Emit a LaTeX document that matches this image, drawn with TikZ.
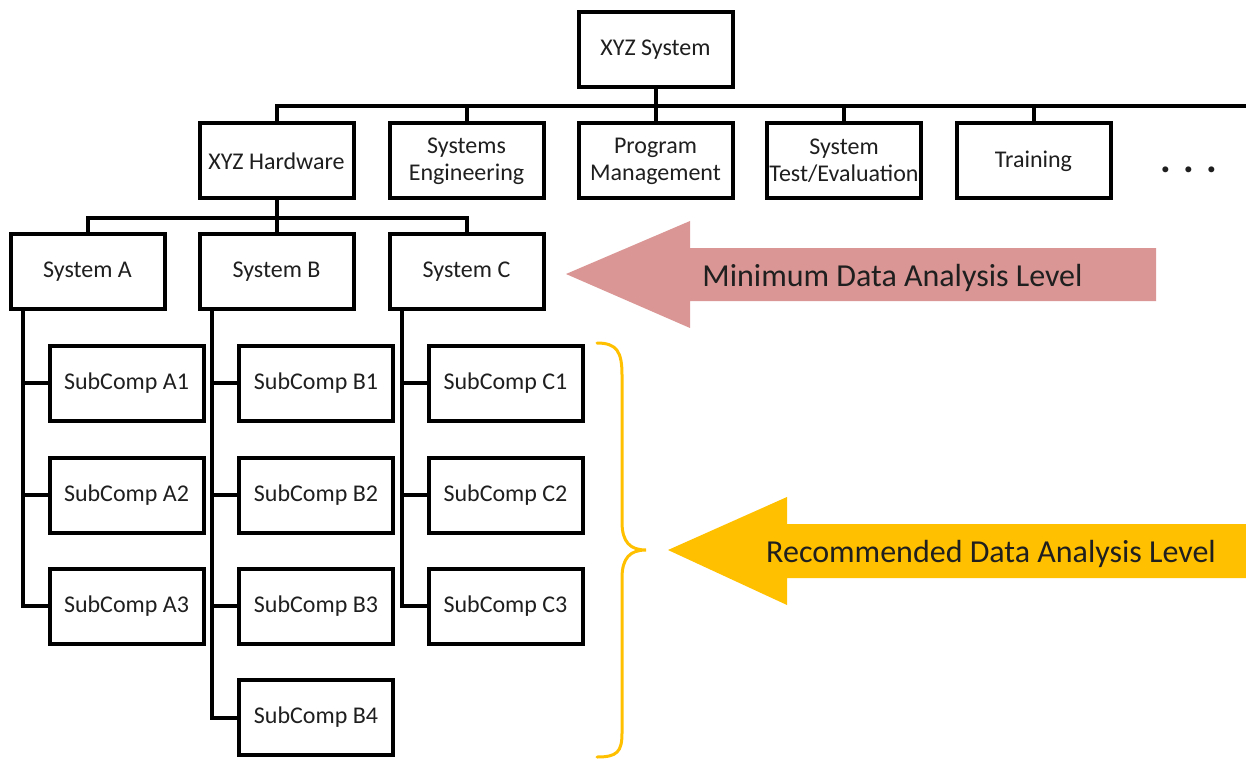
\documentclass[tikz,border=0pt]{standalone}
\usepackage{fontspec}
\setmainfont{Carlito}
\usetikzlibrary{calc}
\definecolor{minpink}{HTML}{D99694}
\definecolor{recgold}{HTML}{FFC000}
\definecolor{inktext}{HTML}{1F1F1F}
\begin{document}
\begin{tikzpicture}[x=0.5pt,y=-0.5pt,
  box/.style={draw=black, line width=2pt, fill=white, minimum width=77pt,
    minimum height=37.5pt, inner sep=1pt, align=center,
    font=\fontsize{12}{13.5}\selectfont, text=inktext},
  link/.style={line width=2pt, draw=black},
  bannertext/.style={font=\fontsize{16}{19}\selectfont, text=inktext, anchor=base}
]
\useasboundingbox (0,0) rectangle (1246,759);

% top level
\node[box] (sys) at (655.5,49.5) {XYZ System};

% second level
\node[box] (hw)  at (276.5,161) {XYZ Hardware};
\node[box] (se)  at (466.5,161) {Systems\\Engineering};
\node[box] (pm)  at (655.5,161) {Program\\Management};
\node[box] (ste) at (844,161)   {System\\Test/Evaluation};
\node[box] (tr)  at (1033.5,161) {Training};
\node[font=\fontsize{20}{24}\selectfont\bfseries, text=inktext, anchor=base] (more) at (1189,173) {. . .};

% systems
\node[box] (sa) at (87.5,271.5)  {System A};
\node[box] (sb) at (276.5,271.5) {System B};
\node[box] (sc) at (466.5,271.5) {System C};

% subcomponents
\node[box] (a1) at (126.5,383) {SubComp A1};
\node[box] (a2) at (126.5,495) {SubComp A2};
\node[box] (a3) at (126.5,606) {SubComp A3};
\node[box] (b1) at (316,383)   {SubComp B1};
\node[box] (b2) at (316,495)   {SubComp B2};
\node[box] (b3) at (316,606)   {SubComp B3};
\node[box] (b4) at (316,717.5) {SubComp B4};
\node[box] (c1) at (505.5,383) {SubComp C1};
\node[box] (c2) at (505.5,495) {SubComp C2};
\node[box] (c3) at (505.5,606) {SubComp C3};

% top bus
\coordinate (busR) at (1246,106);
\draw[link] (sys.south) -- (sys.south |- busR);
\draw[link] (hw.north) -- (hw.north |- busR) -- (busR);
\foreach \n in {se,pm,ste,tr}
  \draw[link] (\n.north) -- (\n.north |- busR);

% hardware bus
\coordinate (hwbus) at (276.5,218);
\draw[link] (hw.south) -- (hwbus);
\draw[link] (sa.north) |- (sc.north |- hwbus) -- (sc.north);
\draw[link] (sb.north) -- (sb.north |- hwbus);

% trunks to subcomponents
\coordinate (ta) at ($(sa.south west)+(14,0)$);
\coordinate (tb) at ($(sb.south west)+(14,0)$);
\coordinate (tc) at ($(sc.south west)+(14,0)$);
\draw[link] (ta) |- (a3.west);
\draw[link] (tb) |- (b4.west);
\draw[link] (tc) |- (c3.west);
\foreach \n in {a1,a2} \draw[link] (\n.west -| ta) -- (\n.west);
\foreach \n in {b1,b2,b3} \draw[link] (\n.west -| tb) -- (\n.west);
\foreach \n in {c1,c2} \draw[link] (\n.west -| tc) -- (\n.west);

% minimum level banner
\fill[minpink] (566,274) -- (690,221) -- (690,248) -- (1156,248) -- (1156,301)
  -- (690,301) -- (690,328) -- cycle;
\node[bannertext] (minlbl) at (892.5,286) {Minimum Data Analysis Level};

% recommended level brace and banner
\draw[recgold, line width=1.5pt, line cap=round]
  (597,343) .. controls (617,343) and (622,352) .. (622,375) -- (622,522)
  .. controls (622,542) and (630,550) .. (646,550)
  .. controls (630,550) and (622,558) .. (622,578) -- (622,733)
  .. controls (622,752) and (617,757) .. (597,757);
\fill[recgold] (668,550) -- (787,497) -- (787,524) -- (1246,524) -- (1246,578)
  -- (787,578) -- (787,605) -- cycle;
\node[bannertext] (reclbl) at (991,562) {Recommended Data Analysis Level};
\end{tikzpicture}
\end{document}
